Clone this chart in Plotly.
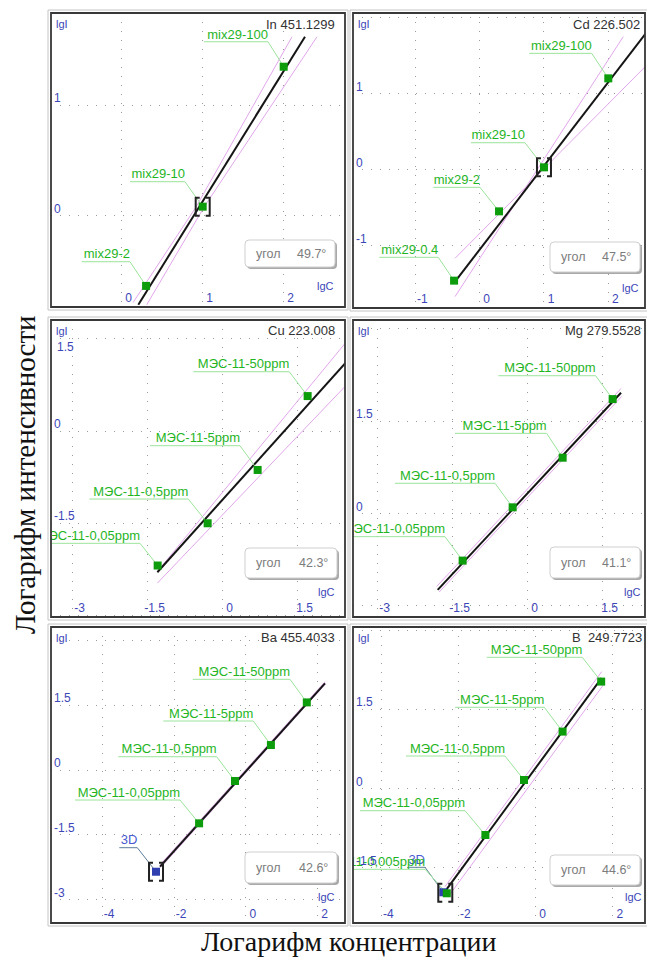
import plotly.graph_objects as go

W, H = 647, 957

# ====================== DATA ======================
# --- In 451.1299 ---
in_title = "In 451.1299"
in_names = ["mix29-2", "mix29-10", "mix29-100"]
in_lgC = [0.301, 1.0, 2.0]
in_lgI = [-0.63, 0.084, 1.345]
in_fit_lgC = [0.205, 2.263]
in_fit_lgI = [-0.80, 1.615]
in_band_a_lgC = [0.14, 0.92, 2.103]
in_band_a_lgI = [-0.78, 0.084, 1.615]
in_band_b_lgC = [0.309, 1.02, 2.411]
in_band_b_lgI = [-0.80, 0.084, 1.615]
in_angle = "49.7°"
in_xticks = [0, 1, 2]
in_xticktext = ["0", "1", "2"]
in_yticks = [0, 1]
in_yticktext = ["0", "1"]

# --- Cd 226.502 ---
cd_title = "Cd 226.502"
cd_names = ["mix29-0.4", "mix29-2", "mix29-10", "mix29-100"]
cd_lgC = [-0.398, 0.301, 1.0, 2.0]
cd_lgI = [-1.465, -0.553, 0.026, 1.197]
cd_fit_lgC = [-0.383, 2.62]
cd_fit_lgI = [-1.478, 1.83]
cd_band_a_lgC = [-0.383, 2.62]
cd_band_a_lgI = [-1.171, 1.39]
cd_band_b_lgC = [-0.383, 2.233]
cd_band_b_lgI = [-1.675, 1.746]
cd_angle = "47.5°"
cd_xticks = [-1, 0, 1, 2]
cd_xticktext = ["-1", "0", "1", "2"]
cd_yticks = [-1, 0, 1, 2]
cd_yticktext = ["-1", "0", "1", ""]

# --- Cu 223.008 ---
cu_title = "Cu 223.008"
cu_names = ["МЭС-11-0,05ppm", "МЭС-11-0,5ppm", "МЭС-11-5ppm", "МЭС-11-50ppm"]
cu_lgC = [-1.301, -0.301, 0.699, 1.699]
cu_lgI = [-2.187, -1.50, -0.633, 0.568]
cu_fit_lgC = [-1.307, 2.5]
cu_fit_lgI = [-2.296, 1.147]
cu_band_a_lgC = [-1.253, 2.5]
cu_band_a_lgI = [-2.231, 1.477]
cu_band_b_lgC = [-1.307, 2.5]
cu_band_b_lgI = [-2.474, 0.77]
cu_angle = "42.3°"
cu_xticks = [-3, -1.5, 0, 1.5]
cu_xticktext = ["-3", "-1.5", "0", "1.5"]
cu_yticks = [-3, -1.5, 0, 1.5]
cu_yticktext = ["", "-1.5", "0", ""]
cu_top_ylabel = "1.5"   # drawn just below its gridline in the original

# --- Mg 279.5528 ---
mg_title = "Mg 279.5528"
mg_names = ["МЭС-11-0,05ppm", "МЭС-11-0,5ppm", "МЭС-11-5ppm", "МЭС-11-50ppm"]
mg_lgC = [-1.301, -0.301, 0.699, 1.699]
mg_lgI = [-0.769, 0.097, 0.904, 1.857]
mg_fit_lgC = [-1.8, 1.867]
mg_fit_lgI = [-1.245, 1.96]
mg_band_a_lgC = [-1.82, 1.867]
mg_band_a_lgI = [-1.19, 2.03]
mg_band_b_lgC = [-1.77, 1.88]
mg_band_b_lgI = [-1.28, 1.90]
mg_angle = "41.1°"
mg_xticks = [-3, -1.5, 0, 1.5]
mg_xticktext = ["-3", "-1.5", "0", "1.5"]
mg_yticks = [-1.5, 0, 1.5, 3]
mg_yticktext = ["", "0", "1.5", ""]

# --- Ba 455.4033 ---
ba_title = "Ba 455.4033"
ba_names = ["3D", "МЭС-11-0,05ppm", "МЭС-11-0,5ppm", "МЭС-11-5ppm", "МЭС-11-50ppm"]
ba_lgC = [-2.501, -1.301, -0.301, 0.699, 1.699]
ba_lgI = [-2.349, -1.231, -0.254, 0.577, 1.562]
ba_fit_lgC = [-2.39, 2.206]
ba_fit_lgI = [-2.231, 2.0]
ba_band_a_lgC = [-2.39, 2.206]
ba_band_a_lgI = [-2.19, 2.04]
ba_band_b_lgC = [-2.37, 2.22]
ba_band_b_lgI = [-2.25, 1.99]
ba_angle = "42.6°"
ba_xticks = [-4, -2, 0, 2]
ba_xticktext = ["-4", "-2", "0", "2"]
ba_yticks = [-3, -1.5, 0, 1.5, 3]
ba_yticktext = ["-3", "-1.5", "0", "1.5", ""]

# --- B 249.7723 ---
b_title = "B  249.7723"
b_names = ["3D", "МЭС-11-0,005ppm", "МЭС-11-0,05ppm", "МЭС-11-0,5ppm", "МЭС-11-5ppm", "МЭС-11-50ppm"]
b_lgC = [-2.391, -2.301, -1.301, -0.301, 0.699, 1.699]
b_lgI = [-1.973, -1.992, -0.886, 0.158, 1.076, 2.025]
b_fit_lgC = [-2.35, 1.707]
b_fit_lgI = [-1.962, 2.09]
b_band_a_lgC = [-2.35, 1.713]
b_band_a_lgI = [-1.867, 2.215]
b_band_b_lgC = [-2.264, 1.756]
b_band_b_lgI = [-2.057, 1.962]
b_angle = "44.6°"
b_xticks = [-4, -2, 0, 2]
b_xticktext = ["-4", "-2", "0", "2"]
b_yticks = [-1.5, 0, 1.5, 3]
b_yticktext = ["-1.5", "0", "1.5", ""]

y_title = "Логарифм интенсивности"
x_title = "Логарифм концентрации"

# ====================== LAYOUT / STYLE ======================
FONT = "Liberation Sans"
SERIF = "Liberation Serif"
GREEN_TXT = "#1fb51f"
GREEN_LEAD = "#9be49b"
GREEN_PT = "#0c9c0c"
BLUE_PT = "#2f3fb0"
BLUE_TXT = "#4a5ad0"
BLUE_LEAD = "#5d7d99"
PINK = "#e2a6ec"
TICK_BLUE = "#3c46b8"

panels = [
    dict(title=in_title, names=in_names, x=in_lgC, y=in_lgI,
         fit=(in_fit_lgC, in_fit_lgI), ba=(in_band_a_lgC, in_band_a_lgI), bb=(in_band_b_lgC, in_band_b_lgI),
         angle=in_angle, xt=(in_xticks, in_xticktext), yt=(in_yticks, in_yticktext),
         frame=(51, 13, 345, 307), xr=[-0.873, 2.757], yr=[-0.820, 1.829],
         anchors=[(-0.494, 0.102, -0.412), (0.102, 0.781, 0.309), (1.016, 1.806, 1.570)],
         box=(245, 240, 335, 267), title_px=(337, 25), lgc_px=(336, 286), bracket=(1.0, 0.084)),
    dict(title=cd_title, names=cd_names, x=cd_lgC, y=cd_lgI,
         fit=(cd_fit_lgC, cd_fit_lgI), ba=(cd_band_a_lgC, cd_band_a_lgI), bb=(cd_band_b_lgC, cd_band_b_lgI),
         angle=cd_angle, xt=(cd_xticks, cd_xticktext), yt=(cd_yticks, cd_yticktext),
         frame=(353, 13, 645, 308), xr=[-1.970, 2.571], yr=[-1.825, 2.057],
         anchors=[(-1.561, -0.644, -1.158), (-0.721, 0.005, -0.237), (-0.135, 0.704, 0.35), (0.771, 1.742, 1.526)],
         box=(550, 242, 640, 272), title_px=(642, 25), lgc_px=(641, 288), bracket=(1.0, 0.026)),
    dict(title=cu_title, names=cu_names, x=cu_lgC, y=cu_lgI,
         fit=(cu_fit_lgC, cu_fit_lgI), ba=(cu_band_a_lgC, cu_band_a_lgI), bb=(cu_band_b_lgC, cu_band_b_lgI),
         angle=cu_angle, xt=(cu_xticks, cu_xticktext), yt=(cu_yticks, cu_yticktext),
         frame=(51, 320, 345, 617), xr=[-3.434, 2.446], yr=[-3.024, 1.805],
         anchors=[(-3.6, -1.654, -1.826), (-2.668, -0.688, -1.106), (-1.454, 0.346, -0.239), (-0.588, 1.332, 0.964)],
         box=(245, 548, 337, 578), title_px=(337, 330), lgc_px=(337, 592), bracket=None),
    dict(title=mg_title, names=mg_names, x=mg_lgC, y=mg_lgI,
         fit=(mg_fit_lgC, mg_fit_lgI), ba=(mg_band_a_lgC, mg_band_a_lgI), bb=(mg_band_b_lgC, mg_band_b_lgI),
         angle=mg_angle, xt=(mg_xticks, mg_xticktext), yt=(mg_yticks, mg_yticktext),
         frame=(353, 320, 645, 617), xr=[-3.494, 2.346], yr=[-1.686, 3.143],
         anchors=[(-3.6, -1.654, -0.38), (-2.654, -0.654, 0.488), (-1.454, 0.38, 1.30), (-0.588, 1.36, 2.237)],
         box=(550, 547, 640, 578), title_px=(643, 330), lgc_px=(643, 592), bracket=None),
    dict(title=ba_title, names=ba_names, x=ba_lgC, y=ba_lgI,
         fit=(ba_fit_lgC, ba_fit_lgI), ba=(ba_band_a_lgC, ba_band_a_lgI), bb=(ba_band_b_lgC, ba_band_b_lgI),
         angle=ba_angle, xt=(ba_xticks, ba_xticktext), yt=(ba_yticks, ba_yticktext),
         frame=(51, 627, 345, 923), xr=[-5.426, 2.763], yr=[-3.533, 3.303],
         anchors=[(-3.524, -3.022, -1.794), (-4.758, -1.833, -0.693), (-3.552, -0.811, 0.307), (-2.298, 0.209, 1.132), (-1.479, 1.231, 2.095)],
         box=(245, 852, 337, 883), title_px=(337, 637), lgc_px=(337, 897), bracket=(-2.501, -2.349)),
    dict(title=b_title, names=b_names, x=b_lgC, y=b_lgI,
         fit=(b_fit_lgC, b_fit_lgI), ba=(b_band_a_lgC, b_band_a_lgI), bb=(b_band_b_lgC, b_band_b_lgI),
         angle=b_angle, xt=(b_xticks, b_xticktext), yt=(b_yticks, b_yticktext),
         frame=(353, 627, 645, 923), xr=[-4.731, 2.834], yr=[-2.556, 3.061],
         anchors=[(-3.298, -2.865, -1.499), (-4.9, -2.865, -1.537), (-4.549, -1.829, -0.425), (-3.358, -0.793, 0.613), (-2.088, 0.225, 1.537), (-1.267, 1.21, 2.486)],
         box=(550, 855, 640, 885), title_px=(644, 637), lgc_px=(644, 897), bracket=(-2.34, -1.98)),
]


def X(px):
    return px / W


def Y(py):
    return 1 - py / H


def rrect(x0, y0, x1, y1, r):
    return (f"M {X(x0 + r)},{Y(y0)} L {X(x1 - r)},{Y(y0)} Q {X(x1)},{Y(y0)} {X(x1)},{Y(y0 + r)} "
            f"L {X(x1)},{Y(y1 - r)} Q {X(x1)},{Y(y1)} {X(x1 - r)},{Y(y1)} "
            f"L {X(x0 + r)},{Y(y1)} Q {X(x0)},{Y(y1)} {X(x0)},{Y(y1 - r)} "
            f"L {X(x0)},{Y(y0 + r)} Q {X(x0)},{Y(y0)} {X(x0 + r)},{Y(y0)} Z")


fig = go.Figure()
shapes = []
annotations = []
layout_axes = {}

for i, p in enumerate(panels):
    n = "" if i == 0 else str(i + 1)
    xa, ya = "x" + n, "y" + n
    fx0, fy0, fx1, fy1 = p["frame"]
    common = dict(xaxis=xa, yaxis=ya, hoverinfo="skip", showlegend=False)

    # confidence band lines and fitted line
    for band in (p["ba"], p["bb"]):
        fig.add_trace(go.Scatter(x=band[0], y=band[1], mode="lines",
                                 line=dict(color=PINK, width=1), **common))
    fig.add_trace(go.Scatter(x=p["fit"][0], y=p["fit"][1], mode="lines",
                             line=dict(color="#151515", width=2), **common))

    # leader lines
    for name, px_, py_, (ax0, ax1, ay) in zip(p["names"], p["x"], p["y"], p["anchors"]):
        is3d = name == "3D"
        fig.add_trace(go.Scatter(x=[ax0, ax1, px_], y=[ay, ay, py_], mode="lines",
                                 line=dict(color=BLUE_LEAD if is3d else GREEN_LEAD, width=1), **common))

    # points
    for name, px_, py_ in zip(p["names"], p["x"], p["y"]):
        is3d = name == "3D"
        fig.add_trace(go.Scatter(x=[px_], y=[py_], mode="markers",
                                 marker=dict(symbol="square", size=8, color=BLUE_PT if is3d else GREEN_PT,
                                             line=dict(width=0)), **common))

    # labels
    for name, (ax0, ax1, ay) in zip(p["names"], p["anchors"]):
        is3d = name == "3D"
        fig.add_trace(go.Scatter(x=[ax1], y=[ay], mode="text", text=[name], textposition="top left",
                                 textfont=dict(family=FONT, size=13, color=BLUE_TXT if is3d else GREEN_TXT),
                                 **common))

    # axes
    layout_axes["xaxis" + n] = dict(
        domain=[X(fx0), X(fx1)], range=p["xr"], anchor=ya,
        tickvals=p["xt"][0], ticktext=p["xt"][1],
        showgrid=True, gridcolor="#9a9a9a", griddash="1px,8px", gridwidth=1,
        zeroline=False, showline=False, ticks="",
        ticklabelposition="inside", ticklabeloverflow="allow", ticklabelshift=7,
        tickfont=dict(family=FONT, size=12, color=TICK_BLUE), fixedrange=True)
    layout_axes["yaxis" + n] = dict(
        domain=[Y(fy1), Y(fy0)], range=p["yr"], anchor=xa,
        tickvals=p["yt"][0], ticktext=p["yt"][1],
        showgrid=True, gridcolor="#9a9a9a", griddash="1px,8px", gridwidth=1,
        zeroline=False, showline=False, ticks="",
        ticklabelposition="inside", ticklabeloverflow="allow", ticklabelshift=-7,
        tickfont=dict(family=FONT, size=12, color=TICK_BLUE), fixedrange=True)

    # frames
    shapes.append(dict(type="rect", xref="paper", yref="paper", x0=X(fx0 - 3), x1=X(fx1 + 3),
                       y0=Y(fy1 + 3), y1=Y(fy0 - 3), line=dict(color="#c4c4c4", width=1)))
    shapes.append(dict(type="rect", xref="paper", yref="paper", x0=X(fx0), x1=X(fx1),
                       y0=Y(fy1), y1=Y(fy0), line=dict(color="#383838", width=1.8)))

    # bracket around selected point
    if p["bracket"] is not None:
        bx, by = p["bracket"]
        shapes.append(dict(type="path", xref=xa, yref=ya, xsizemode="pixel", ysizemode="pixel",
                           xanchor=bx, yanchor=by,
                           path="M -3,-9 L -7,-9 L -7,9 L -3,9 M 3,-9 L 7,-9 L 7,9 L 3,9",
                           line=dict(color="#222222", width=2)))

    # angle box
    bx0, by0, bx1, by1 = p["box"]
    shapes.append(dict(type="path", xref="paper", yref="paper", path=rrect(bx0 + 2, by0 + 2, bx1 + 2, by1 + 2, 4),
                       fillcolor="#a9a9a9", line=dict(width=0)))
    shapes.append(dict(type="path", xref="paper", yref="paper", path=rrect(bx0, by0, bx1, by1, 4),
                       fillcolor="white", line=dict(color="#cfcfcf", width=1)))
    annotations.append(dict(xref="paper", yref="paper", x=X(bx0 + 9), y=Y((by0 + by1) / 2), text="угол",
                            showarrow=False, xanchor="left", yanchor="middle",
                            font=dict(family=FONT, size=12.5, color="#7c7c7c")))
    annotations.append(dict(xref="paper", yref="paper", x=X(bx1 - 7), y=Y((by0 + by1) / 2), text=p["angle"],
                            showarrow=False, xanchor="right", yanchor="middle",
                            font=dict(family=FONT, size=12.5, color="#7c7c7c")))

    # panel title, axis name marks
    tx, ty = p["title_px"]
    annotations.append(dict(xref="paper", yref="paper", x=X(tx), y=Y(ty), text=p["title"], showarrow=False,
                            xanchor="right", yanchor="middle", font=dict(family=FONT, size=13, color="#333333")))
    annotations.append(dict(xref="paper", yref="paper", x=X(fx0 + 3), y=Y(fy0 + 11), text="lgI", showarrow=False,
                            xanchor="left", yanchor="middle", font=dict(family=FONT, size=11, color=TICK_BLUE)))
    cx, cy = p["lgc_px"]
    annotations.append(dict(xref="paper", yref="paper", x=X(cx), y=Y(cy), text="lgC", showarrow=False,
                            xanchor="right", yanchor="middle", font=dict(family=FONT, size=11, color=TICK_BLUE)))

# Cu top y label, placed just under its gridline as in the original
annotations.append(dict(xref="paper", yref="paper", x=X(55), y=Y(347), text=cu_top_ylabel, showarrow=False,
                        xanchor="left", yanchor="middle", font=dict(family=FONT, size=12, color=TICK_BLUE)))

# overall axis titles
annotations.append(dict(xref="paper", yref="paper", x=X(25), y=Y(475), text=y_title, textangle=-90,
                        showarrow=False, xanchor="center", yanchor="middle",
                        font=dict(family=SERIF, size=29, color="#111111")))
annotations.append(dict(xref="paper", yref="paper", x=X(349), y=Y(941), text=x_title,
                        showarrow=False, xanchor="center", yanchor="middle",
                        font=dict(family=SERIF, size=28, color="#111111")))

fig.update_layout(
    width=W, height=H, autosize=False,
    margin=dict(l=0, r=0, t=0, b=0),
    paper_bgcolor="white", plot_bgcolor="white",
    shapes=shapes, annotations=annotations,
    **layout_axes,
)

fig.write_html("out.html", post_script="document.body.style.margin='0';",
               config={"displayModeBar": False})
